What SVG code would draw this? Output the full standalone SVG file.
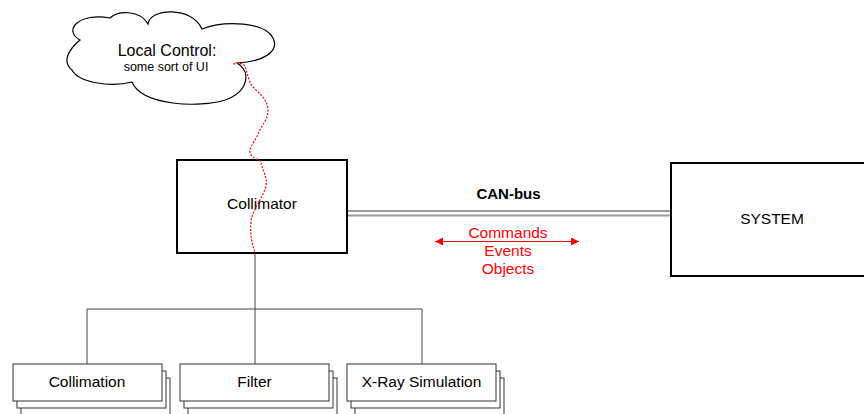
<svg xmlns="http://www.w3.org/2000/svg" width="864" height="414" viewBox="0 0 864 414">
<defs>
<style>
text{font-family:"Liberation Sans",Arial,sans-serif;fill:#000;text-anchor:middle}
.box{fill:#fff;stroke:#000;stroke-width:2}
.sub{fill:#fff;stroke:#333;stroke-width:1}
.lbl{font-size:15.5px}
.red{fill:#ff0000;font-size:15.5px}
.conn{fill:none;stroke:#444;stroke-width:1}
</style>
<marker id="ah" viewBox="0 0 10 10" refX="10" refY="5" markerWidth="10" markerHeight="8" markerUnits="userSpaceOnUse" orient="auto-start-reverse">
<path d="M0,0 L10,5 L0,10 Z" fill="#ff0000"/>
</marker>
</defs>
<rect width="864" height="414" fill="#fff"/>

<g id="connectors">
<path class="conn" d="M255,253 V309 M87,309 H422 M87,309 V364 M255,309 V364 M422,309 V364"/>
<line x1="348" y1="211" x2="670" y2="211" stroke="#999" stroke-width="2"/>
<line x1="348" y1="215.5" x2="670" y2="215.5" stroke="#999" stroke-width="2"/>
<line x1="435" y1="241.5" x2="579" y2="241.5" stroke="#ff0000" stroke-width="1.2" marker-start="url(#ah)" marker-end="url(#ah)"/>
<text x="508.5" y="199" style="font-size:15px;font-weight:bold">CAN-bus</text>
<text class="red" x="508" y="238">Commands</text>
<text class="red" x="508" y="256">Events</text>
<text class="red" x="508" y="274">Objects</text>
</g>

<g id="cloud">
<path d="M80,40 C62,30 80,12 110,18 C118,10 140,10 148,24 C150,8 192,6 202,29 C225,20 265,22 273,38 C280,52 262,62 237,63 C252,72 248,92 225,100 C200,108 142,106 132,82 C110,88 78,82 72,70 C62,62 68,50 80,40 Z" fill="#fff" stroke="#000" stroke-width="1.2"/>
<text x="167" y="56" style="font-size:16px">Local Control:</text>
<text x="166" y="71" style="font-size:12.5px">some sort of UI</text>
</g>

<g id="collimator">
<rect class="box" x="177" y="160" width="170" height="93"/>
<text class="lbl" x="262" y="209">Collimator</text>
</g>

<g id="system">
<rect class="box" x="671" y="163" width="200" height="113"/>
<text class="lbl" x="772" y="224">SYSTEM</text>
</g>

<g id="link">
<path d="M233,64 C238,63 242,63 244,65 C248,72 248,82 253,87 C260,94 268,100 268,110 C268,120 261,126 258,134 C254,144 246,150 252,156 C256,160 261,160 261,162 C262,170 268,178 266,186 C262,200 252,210 251,222 C250,236 252,244 255,252" fill="none" stroke="#ff0000" stroke-width="1.2" stroke-dasharray="2,1.5"/>
</g>

<g id="collimation">
<rect class="sub" x="21" y="378" width="149" height="37"/>
<rect class="sub" x="17" y="371" width="149" height="37"/>
<rect class="sub" x="13" y="364" width="149" height="37"/>
<text class="lbl" x="87" y="387">Collimation</text>
</g>

<g id="filter">
<rect class="sub" x="188" y="378" width="149" height="37"/>
<rect class="sub" x="184" y="371" width="149" height="37"/>
<rect class="sub" x="180" y="364" width="149" height="37"/>
<text class="lbl" x="254.5" y="387">Filter</text>
</g>

<g id="xray">
<rect class="sub" x="355" y="378" width="149" height="37"/>
<rect class="sub" x="351" y="371" width="149" height="37"/>
<rect class="sub" x="347" y="364" width="149" height="37"/>
<text class="lbl" x="421.5" y="387">X-Ray Simulation</text>
</g>
</svg>
